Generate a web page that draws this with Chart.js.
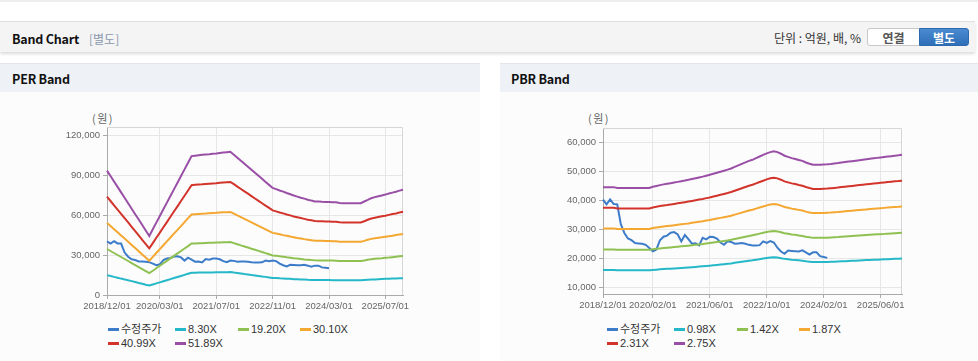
<!DOCTYPE html>
<html><head><meta charset="utf-8">
<script src="https://cdn.jsdelivr.net/npm/chart.js@4.4.1/dist/chart.umd.min.js"></script>
<style>
html,body{margin:0;padding:0;background:#fff;width:978px;height:361px;overflow:hidden;font-family:"Noto Sans CJK KR","Liberation Sans",sans-serif;}
.abs{position:absolute;}
#topline{left:0;top:0;width:978px;height:2px;background:#eeeeee;}
#hdr{left:0;top:21px;width:975px;height:30px;background:#f4f4f4;border-top:1px solid #e0e0e0;box-shadow:0 2px 3px rgba(0,0,0,0.14);}
.ttl{font-size:12.5px;font-weight:700;color:#111;line-height:18px;white-space:nowrap;letter-spacing:-0.2px;}
.sub{font-size:12px;font-weight:400;color:#8a98ae;line-height:18px;}
.unit{font-size:12px;color:#333;line-height:18px;white-space:nowrap;}
.btn{height:18px;line-height:18px;text-align:center;font-size:12px;font-weight:700;box-sizing:border-box;}
.phdr{top:63px;height:29px;background:#eef2f7;border-top:1px solid #e3e6ea;}
.pbody{top:92px;height:269px;background:#fcfcfc;}
.yunit{font-size:11px;color:#666;line-height:14px;letter-spacing:1.5px;}
.leg{font-size:11px;color:#333;line-height:14px;white-space:nowrap;font-family:"Liberation Sans","Noto Sans CJK KR",sans-serif;}
.leg .mk{display:inline-block;width:11px;height:3px;vertical-align:middle;margin-right:2px;position:relative;top:-1px;}
canvas{position:absolute;}
</style></head>
<body>
<div id="topline" class="abs"></div>
<div id="hdr" class="abs">
  <div class="abs ttl" style="left:12px;top:8px;">Band Chart</div>
  <div class="abs sub" style="left:89px;top:8px;">[별도]</div>
  <div class="abs unit" style="right:114px;top:7px;">단위 : 억원, 배, %</div>
  <div class="abs btn" style="left:867px;top:6px;width:53px;background:#fff;border:1px solid #c8c8c8;border-radius:3px 0 0 3px;color:#555;">연결</div>
  <div class="abs btn" style="left:919px;top:6px;width:50px;background:linear-gradient(#4a8ad0,#2f6fb8);border:1px solid #2d69ad;border-radius:0 3px 3px 0;color:#fff;">별도</div>
</div>
<div class="abs phdr" style="left:0;width:480px;"><div class="abs ttl" style="left:12px;top:6px;">PER Band</div></div>
<div class="abs phdr" style="left:500px;width:478px;"><div class="abs ttl" style="left:11px;top:6px;">PBR Band</div></div>
<div class="abs pbody" style="left:0;width:480px;"></div>
<div class="abs pbody" style="left:500px;width:478px;"></div>
<div class="abs yunit" style="left:92px;top:111px;">(원)</div>
<div class="abs yunit" style="left:588px;top:111px;">(원)</div>
<canvas id="per" width="480" height="220" style="left:0;top:100px;"></canvas>
<canvas id="pbr" width="478" height="220" style="left:500px;top:100px;"></canvas>
<div id="perLeg"></div>
<div id="pbrLeg"></div>
<script>
// ---- categories (monthly, 2018/12 .. 2025/12)
const months = [];
for (let y = 2018, m = 12; months.length < 85;) {
  months.push(y + '/' + String(m).padStart(2, '0') + '/01');
  m++; if (m > 12) { m = 1; y++; }
}
const perXTicks = ['2018/12/01','2020/03/01','2021/07/01','2022/11/01','2024/03/01','2025/07/01'];
const pbrXTicks = ['2018/12/01','2020/02/01','2021/06/01','2022/10/01','2024/02/01','2025/06/01'];
const perYTicks = [0, 30000, 60000, 90000, 120000];
const pbrYTicks = [10000, 20000, 30000, 40000, 50000, 60000];

const seriesNames = ['수정주가'];
const perMultiples = ['8.30X','19.20X','30.10X','40.99X','51.89X'];
const pbrMultiples = ['0.98X','1.42X','1.87X','2.31X','2.75X'];

// adjusted price (2018/12 .. 2024/03)
const adjPrice = [40200,38600,40300,38700,38600,31800,28700,26800,26200,25200,25100,25000,24600,
  23500,22400,23000,26200,27400,27800,28800,29000,28200,25800,28000,26600,
  25000,25100,24400,27000,26500,27400,27300,26800,25400,24600,25800,
  25600,25000,25100,25200,25000,24600,24400,24400,24500,25800,25300,25900,
  25400,23600,22300,21500,22600,22500,22400,22300,22700,22000,21200,22000,
  22000,20700,20400,20100];

// PER bands
const per830 = [14900,14300,13600,13000,12300,11700,11000,10400,9700,9000,8400,7700,7100,
  7900,8700,9500,10300,11100,11900,12700,13500,14300,15100,15900,16700,
  16700,16800,16800,16900,16900,16900,17000,17000,17100,17100,17200,
  16800,16500,16100,15700,15400,15000,14700,14300,13900,13600,13200,12800,
  12700,12500,12400,12200,12100,11900,11800,11700,11600,11400,11300,11200,
  11200,11200,11200,11200,11100,11100,11000,11000,11000,11000,11000,11000,11000,
  11200,11400,11600,11700,11900,12000,12100,12200,12300,12400,12500,12600];
const per1920 = [34500,33000,31500,30000,28500,27000,25500,23900,22400,20900,19400,17900,16400,
  18200,20100,21900,23800,25600,27500,29300,31200,33000,34900,36700,38600,
  38700,38800,38900,39000,39100,39200,39300,39400,39500,39600,39700,
  38900,38100,37200,36400,35600,34700,33900,33100,32200,31400,30600,29700,
  29400,29000,28700,28300,28000,27600,27300,27000,26700,26500,26200,26000,
  25900,25900,25800,25800,25800,25700,25500,25500,25500,25500,25500,25500,25500,
  25900,26400,26900,27200,27400,27600,27900,28100,28400,28700,29000,29200];
const per3010 = [54100,51700,49400,47000,44600,42300,39900,37500,35200,32800,30400,28100,25700,
  28600,31500,34400,37300,40200,43100,46000,48900,51700,54700,57600,60400,
  60600,60800,61000,61100,61300,61500,61600,61800,62000,62100,62300,
  61000,59700,58400,57100,55800,54500,53200,51800,50500,49200,47900,46600,
  46100,45500,44900,44400,43800,43300,42800,42400,41900,41500,41100,40700,
  40600,40600,40500,40500,40400,40300,40000,39900,39900,39900,39900,39900,40000,
  40600,41400,42100,42600,43000,43300,43700,44100,44500,45000,45400,45800];
const per4099 = [73700,70500,67200,64000,60800,57600,54400,51100,47900,44700,41400,38200,35000,
  38900,42900,46800,50800,54700,58700,62600,66500,70500,74400,78400,82300,
  82600,82800,83000,83300,83500,83700,83900,84200,84400,84600,84800,
  83100,81300,79500,77700,76000,74200,72400,70600,68800,67000,65300,63500,
  62700,61900,61200,60400,59700,58900,58300,57700,57100,56500,56000,55500,
  55300,55300,55200,55100,55000,54900,54500,54400,54400,54400,54400,54400,54400,
  55300,56400,57400,58000,58500,59000,59500,60100,60700,61200,61800,62400];
const per5189 = [93300,89200,85100,81100,77000,72900,68800,64700,60600,56600,52500,48400,44300,
  49300,54300,59300,64300,69300,74300,79200,84200,89200,94200,99200,104200,
  104500,104800,105100,105400,105600,106000,106200,106500,106800,107100,107400,
  105200,102900,100700,98400,96200,93900,91600,89400,87100,84800,82600,80300,
  79400,78400,77500,76500,75600,74600,73800,73000,72300,71500,70800,70200,
  70100,69900,69800,69700,69600,69500,69000,68900,68800,68800,68800,68800,68900,
  70100,71300,72600,73400,74100,74700,75300,76100,76800,77500,78300,79000];

// PBR bands
const pbr098 = [15880,15880,15880,15880,
  15780,15780,15780,15780,15780,15780,15780,15780,15780,15780,
  15930,16020,16120,16220,16290,16370,16440,16520,16610,16690,16780,
  16880,16970,17070,17170,17290,17400,17520,17650,17780,17900,18030,
  18180,18370,18550,18740,18920,19110,19250,19450,19650,19850,20040,20190,20290,
  20190,19990,19750,19600,19450,19360,19230,19110,18910,18770,18640,
  18640,18640,18670,18700,18740,18790,18840,18900,18960,19020,19080,19140,19200,
  19260,19320,19360,19420,19480,19530,19590,19640,19690,19750,19800,19850];
const pbr142 = [23000,23000,23000,23000,
  22860,22860,22860,22860,22860,22860,22860,22860,22860,22860,
  23080,23220,23360,23500,23600,23710,23830,23940,24070,24180,24310,
  24450,24590,24740,24880,25050,25210,25390,25570,25760,25940,26130,
  26340,26610,26880,27150,27420,27690,27890,28190,28470,28760,29040,29250,29390,
  29250,28970,28610,28400,28190,28050,27860,27690,27410,27190,27010,
  27010,27010,27050,27090,27150,27220,27290,27390,27480,27560,27650,27730,27820,
  27900,27990,28060,28140,28230,28300,28390,28460,28530,28610,28680,28770];
const pbr187 = [30290,30290,30290,30290,
  30110,30110,30110,30110,30110,30110,30110,30110,30110,30110,
  30390,30570,30760,30950,31080,31230,31380,31530,31700,31850,32010,
  32200,32390,32580,32760,32990,33190,33440,33680,33920,34160,34410,
  34690,35040,35400,35750,36110,36470,36730,37120,37490,37870,38240,38520,38710,
  38520,38150,37680,37400,37120,36930,36690,36470,36090,35810,35570,
  35570,35570,35620,35680,35750,35850,35940,36070,36180,36300,36410,36520,36630,
  36750,36860,36950,37060,37180,37270,37380,37470,37570,37680,37770,37890];
const pbr231 = [37420,37420,37420,37420,
  37190,37190,37190,37190,37190,37190,37190,37190,37190,37190,
  37540,37770,38000,38230,38390,38580,38760,38950,39150,39340,39550,
  39780,40010,40240,40470,40750,41000,41300,41600,41900,42200,42500,
  42850,43290,43730,44170,44610,45050,45370,45850,46320,46780,47240,47590,47820,
  47590,47120,46550,46200,45850,45620,45320,45050,44580,44240,43940,
  43940,43940,44010,44070,44170,44280,44400,44560,44700,44840,44980,45110,45250,
  45390,45530,45650,45780,45920,46040,46180,46290,46410,46550,46660,46800];
const pbr275 = [44550,44550,44550,44550,
  44280,44280,44280,44280,44280,44280,44280,44280,44280,44280,
  44690,44960,45240,45510,45710,45930,46150,46370,46610,46830,47080,
  47360,47630,47910,48180,48510,48810,49170,49530,49890,50240,50600,
  51010,51540,52060,52580,53100,53630,54010,54590,55140,55690,56240,56650,56930,
  56650,56100,55410,55000,54590,54310,53960,53630,53080,52660,52310,
  52310,52310,52390,52470,52580,52720,52860,53050,53210,53380,53540,53710,53870,
  54040,54200,54340,54500,54670,54810,54970,55110,55250,55410,55550,55720];

const colors = ['#3d7cc9','#25b8c8','#8fc152','#f4a731','#d2342b','#9a4fa6'];

function frame() {
  return { id: 'frame', beforeDatasetsDraw(chart) {
    const { ctx, chartArea: a } = chart;
    ctx.save(); ctx.strokeStyle = '#d6d6d6'; ctx.lineWidth = 1;
    ctx.beginPath();
    ctx.moveTo(Math.round(a.left), Math.round(a.top) + 0.5);
    ctx.lineTo(Math.round(a.right) - 0.5, Math.round(a.top) + 0.5);
    ctx.lineTo(Math.round(a.right) - 0.5, Math.round(a.bottom));
    ctx.stroke(); ctx.restore();
  } };
}

function makeChart(id, series, labels, xTicks, yTicks, yMin, yMax, pad) {
  const datasets = series.map((d, i) => ({
    label: labels[i], data: d, borderColor: colors[i], backgroundColor: colors[i],
    borderWidth: 2, pointRadius: 0, tension: 0, fill: false, order: series.length - i
  }));
  const tickFont = { size: 9.5, family: 'Liberation Sans' };
  return new Chart(document.getElementById(id), {
    type: 'line',
    data: { labels: months, datasets },
    options: {
      responsive: false, animation: false, devicePixelRatio: 1,
      layout: { padding: pad },
      plugins: { legend: { display: false }, tooltip: { enabled: false } },
      scales: {
        x: {
          type: 'category', offset: false,
          grid: { color: '#e6e6e6', tickLength: 4, tickColor: '#aaaaaa' },
          border: { color: '#aaaaaa' },
          ticks: { autoSkip: false, maxRotation: 0, minRotation: 0, padding: 2, color: '#666', font: tickFont,
                   callback: v => months[v] },
          afterBuildTicks: s => { s.ticks = s.ticks.filter(t => xTicks.includes(months[t.value])); },
          afterFit: s => { s.height = 20; s.paddingLeft = 0; s.paddingRight = 0; }
        },
        y: {
          min: yMin, max: yMax,
          grid: { color: '#e6e6e6', tickLength: 4, tickColor: '#aaaaaa' },
          border: { color: '#aaaaaa' },
          ticks: { padding: 3, color: '#666', font: tickFont, callback: v => Number(v).toLocaleString('en-US') },
          afterBuildTicks: s => { s.ticks = yTicks.map(v => ({ value: v })); },
          afterFit: s => { s.width = 50; s.paddingTop = 0; s.paddingBottom = 0; }
        }
      }
    },
    plugins: [frame()]
  });
}

function legend(elId, chart, left) {
  const el = document.getElementById(elId);
  const cols = [0, 67, 130, 192];
  chart.data.datasets.forEach((ds, i) => {
    const d = document.createElement('div');
    d.className = 'abs leg';
    d.style.left = (left + cols[i % 4]) + 'px';
    d.style.top = (i < 4 ? 322 : 336) + 'px';
    d.innerHTML = '<span class="mk" style="background:' + ds.borderColor + '"></span>' + ds.label;
    el.appendChild(d);
  });
}

const perChart = makeChart('per', [adjPrice, per830, per1920, per3010, per4099, per5189],
  seriesNames.concat(perMultiples), perXTicks, perYTicks, 0, 126000,
  { left: 57, right: 77, top: 27, bottom: 5 });
const pbrChart = makeChart('pbr', [adjPrice, pbr098, pbr142, pbr187, pbr231, pbr275],
  seriesNames.concat(pbrMultiples), pbrXTicks, pbrYTicks, 7600, 65000,
  { left: 53, right: 76, top: 28, bottom: 6 });
legend('perLeg', perChart, 108);
legend('pbrLeg', pbrChart, 607);
</script>
</body></html>
